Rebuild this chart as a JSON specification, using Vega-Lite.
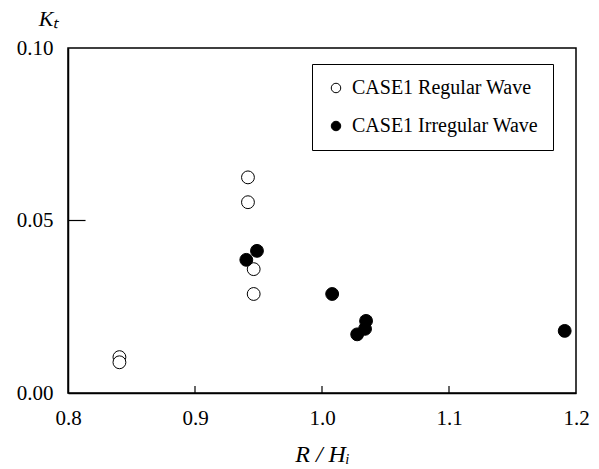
{
  "$schema": "https://vega.github.io/schema/vega-lite/v6.json",
  "width": 508,
  "height": 345,
  "autosize": "none",
  "padding": {"left": 68, "top": 48, "right": 23, "bottom": 76},
  "background": "white",
  "config": {
    "view": {"stroke": "black", "strokeWidth": 1.5},
    "font": "Liberation Serif",
    "axis": {"labelFont": "Liberation Serif", "titleFont": "Liberation Serif"}
  },
  "datasets": {
    "pts": [
      {"series": "CASE1 Regular Wave", "r": 0.9417, "kt": 0.0625},
      {"series": "CASE1 Regular Wave", "r": 0.9417, "kt": 0.0553},
      {"series": "CASE1 Regular Wave", "r": 0.9462, "kt": 0.0359},
      {"series": "CASE1 Regular Wave", "r": 0.9462, "kt": 0.0287},
      {"series": "CASE1 Regular Wave", "r": 0.8405, "kt": 0.0104},
      {"series": "CASE1 Regular Wave", "r": 0.8405, "kt": 0.0089},
      {"series": "CASE1 Irregular Wave", "r": 0.9488, "kt": 0.0412},
      {"series": "CASE1 Irregular Wave", "r": 0.9404, "kt": 0.0386},
      {"series": "CASE1 Irregular Wave", "r": 1.008, "kt": 0.0287},
      {"series": "CASE1 Irregular Wave", "r": 1.0277, "kt": 0.017},
      {"series": "CASE1 Irregular Wave", "r": 1.0347, "kt": 0.0209},
      {"series": "CASE1 Irregular Wave", "r": 1.0339, "kt": 0.0186},
      {"series": "CASE1 Irregular Wave", "r": 1.1911, "kt": 0.018}
    ],
    "xticks": [{"v": 0.9}, {"v": 1.0}, {"v": 1.1}],
    "yticks": [{"v": 0.05}]
  },
  "layer": [
    {
      "data": {"name": "xticks"},
      "mark": {"type": "rule", "color": "black", "strokeWidth": 1.2},
      "encoding": {
        "x": {"field": "v", "type": "quantitative"},
        "y": {"datum": 0},
        "y2": {"datum": 0.002}
      }
    },
    {
      "data": {"name": "yticks"},
      "mark": {"type": "rule", "color": "black", "strokeWidth": 1.2},
      "encoding": {
        "y": {"field": "v", "type": "quantitative"},
        "x": {"datum": 0.8},
        "x2": {"datum": 0.8138}
      }
    },
    {
      "data": {"name": "pts"},
      "mark": {"type": "point", "filled": true, "stroke": "black", "strokeWidth": 1, "opacity": 1, "size": 165},
      "encoding": {
        "x": {"field": "r", "type": "quantitative"},
        "y": {"field": "kt", "type": "quantitative"},
        "fill": {
          "field": "series", "type": "nominal",
          "scale": {"domain": ["CASE1 Regular Wave", "CASE1 Irregular Wave"], "range": ["white", "black"]},
          "legend": {
            "title": null, "orient": "none", "legendX": 244, "legendY": 16,
            "strokeColor": "black", "fillColor": "white", "padding": 14,
            "symbolType": "circle", "symbolSize": 90, "symbolStrokeColor": "black", "symbolStrokeWidth": 1,
            "labelFont": "Liberation Serif", "labelFontSize": 20, "labelColor": "black", "labelOffset": 6,
            "rowPadding": 18, "labelLimit": 300
          }
        }
      }
    }
  ],
  "resolve": {"scale": {"x": "shared", "y": "shared"}},
  "encoding": {
    "x": {
      "type": "quantitative",
      "scale": {"domain": [0.8, 1.2], "nice": false, "zero": false},
      "axis": {
        "values": [0.8, 0.9, 1.0, 1.1, 1.2], "format": ".1f", "grid": false, "labelFlush": false,
        "domainColor": "black", "domainWidth": 1.5, "ticks": false,
        "labelFont": "Liberation Serif", "labelFontSize": 21, "labelColor": "black", "labelPadding": 14,
        "title": "R / Hᵢ", "titleFont": "Liberation Serif", "titleFontStyle": "italic", "titleFontWeight": "normal",
        "titleFontSize": 24, "titleColor": "black", "titlePadding": 14
      }
    },
    "y": {
      "type": "quantitative",
      "scale": {"domain": [0, 0.1], "nice": false},
      "axis": {
        "values": [0, 0.05, 0.1], "format": ".2f", "grid": false, "labelFlush": false,
        "domainColor": "black", "domainWidth": 1.5, "ticks": false,
        "labelFont": "Liberation Serif", "labelFontSize": 21, "labelColor": "black", "labelPadding": 15,
        "title": "Kₜ", "titleFont": "Liberation Serif", "titleFontStyle": "italic", "titleFontWeight": "normal",
        "titleFontSize": 22, "titleColor": "black", "titleAngle": 0, "titleAlign": "center", "titleBaseline": "alphabetic",
        "titleX": -20, "titleY": -23
      }
    }
  }
}
